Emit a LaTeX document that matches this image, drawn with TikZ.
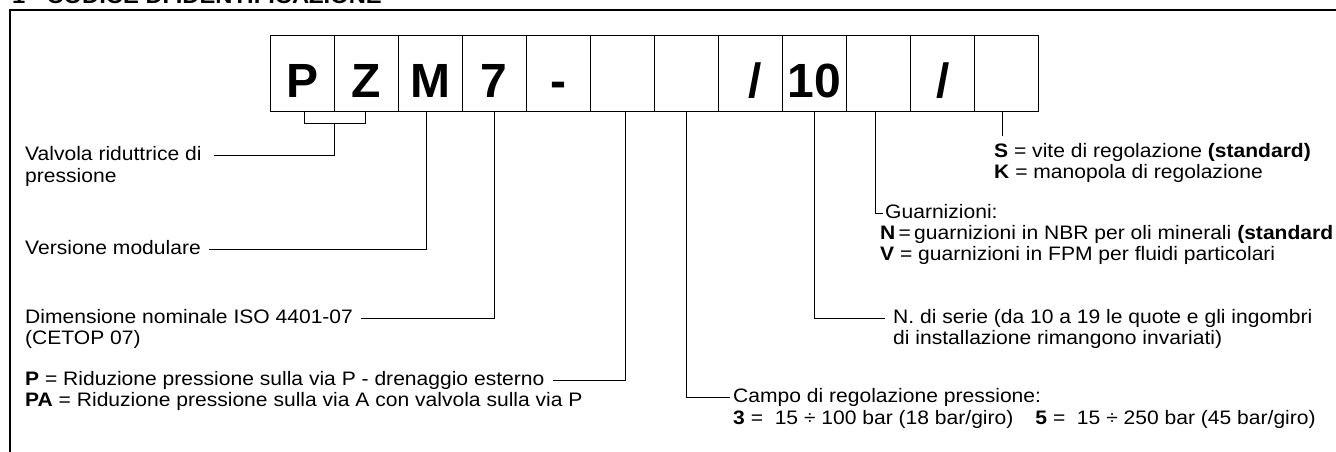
\documentclass[tikz,border=0pt]{standalone}
\usepackage{fontspec}
\setmainfont{Liberation Sans}
\newfontfamily\lab{Liberation Sans}[FakeStretch=1.08]
\usetikzlibrary{calc}
\begin{document}
\begin{tikzpicture}[x=1pt,y=-1pt,
  box/.style={draw, line width=1pt, minimum width=64.08pt, minimum height=75pt,
    inner sep=0pt, font=\fontsize{48}{48}\selectfont\bfseries,
    text height=47pt, text depth=0pt},
  lbl/.style={inner sep=0pt, anchor=base west, font=\lab\fontsize{19.5}{21}\selectfont,
    text height=14pt, text depth=4pt},
  lead/.style={line width=1pt},
  frame/.style={line width=1.5pt}]
\useasboundingbox (0,0) rectangle (1336,452);
\clip (0,0) rectangle (1336,452);
% title (cut by the top edge, as in the reference)
\node[lbl, font=\lab\fontsize{22}{24}\selectfont\bfseries] (title) at (12,4) {1 - CODICE DI IDENTIFICAZIONE};
% frame
\coordinate (fr1) at (1345,10);
\coordinate (fr2) at (10,10);
\coordinate (fr3) at (10,460);
\draw[frame] (fr1) -- (fr2) -- (fr3);
% code boxes
\node[box] (b1) at ({270+64.08*0.5},73.5) {P};
\node[box] (b2) at ({270+64.08*1.5},73.5) {Z};
\node[box] (b3) at ({270+64.08*2.5},73.5) {M};
\node[box] (b4) at ({270+64.08*3.5},73.5) {7};
\node[box] (b5) at ({270+64.08*4.5},73.5) {-};
\node[box] (b6) at ({270+64.08*5.5},73.5) {};
\node[box] (b7) at ({270+64.08*6.5},73.5) {};
\node[box] (b8) at ({270+64.08*7.5},73.5) {\hspace*{9pt}/};
\node[box] (b9) at ({270+64.08*8.5},73.5) {10};
\node[box] (b10) at ({270+64.08*9.5},73.5) {};
\node[box] (b11) at ({270+64.08*10.5},73.5) {/};
\node[box] (b12) at ({270+64.08*11.5},73.5) {};
% labels
\node[lbl] (valv) at (25,160) {Valvola riduttrice di};
\node[lbl] (valv2) at (25,182) {pressione};
\node[lbl] (vers) at (25,254) {Versione modulare};
\node[lbl] (dim) at (25,323) {Dimensione nominale ISO 4401-07};
\node[lbl] (dim2) at (25,344) {(CETOP 07)};
\node[lbl] (pp) at (25,385) {\textbf{P} = Riduzione pressione sulla via P - drenaggio esterno};
\node[lbl] (pa) at (25,406) {\textbf{PA} = Riduzione pressione sulla via A con valvola sulla via P};
\node[lbl] (campo) at (733,402) {Campo di regolazione pressione:};
\node[lbl] (range) at (733,424) {\textbf{3} =\ \ 15 ÷ 100 bar (18 bar/giro)\hspace{22pt}\textbf{5} =\ \ 15 ÷ 250 bar (45 bar/giro)};
\node[lbl] (ser) at (893,323) {N. di serie (da 10 a 19 le quote e gli ingombri};
\node[lbl] (ser2) at (893,344) {di installazione rimangono invariati)};
\node[lbl] (guar) at (885,218) {Guarnizioni:};
\node[lbl] (gn) at (880,239) {\textbf{N}\,=\,guarnizioni in NBR per oli minerali \textbf{(standard}};
\node[lbl] (gv) at (880,260) {\textbf{V} = guarnizioni in FPM per fluidi particolari};
\node[lbl] (ss) at (994,157) {\textbf{S} = vite di regolazione \textbf{(standard)}};
\node[lbl] (kk) at (994,178) {\textbf{K} = manopola di regolazione};
% leaders
\draw[lead] ([xshift=2pt]b1.south) -- ++(0,12) -| ([xshift=-1pt]b2.south);
\coordinate (bkm) at ($(b1.south)!0.5!(b2.south)+(0,12)$);
\draw[lead] (bkm) |- ([xshift=12pt]valv.east);
\draw[lead] ([xshift=-4pt]b3.south) |- ([xshift=8pt]vers.east);
\draw[lead] (b4.south) |- ([xshift=8pt]dim.east);
\draw[lead] ([xshift=3pt]b6.south) |- ([xshift=8pt]pp.east);
\draw[lead] (b7.south) |- ([xshift=-3pt]campo.west);
\draw[lead] (b9.south) |- ([xshift=-8pt]ser.west);
\draw[lead] ([xshift=-3pt]b10.south) |- ([xshift=-2pt]guar.west);
\draw[lead] ([xshift=-4pt]b12.south) -- ++(0,24) coordinate (sEnd);
\end{tikzpicture}
\end{document}
